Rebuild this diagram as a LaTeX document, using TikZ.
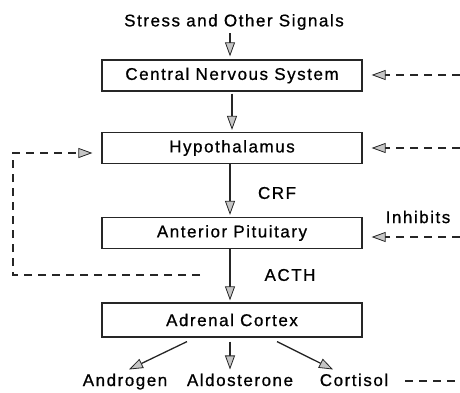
\documentclass[tikz,border=0pt]{standalone}
\usepackage{fontspec}
\setmainfont{Liberation Sans}[LetterSpace=9, FakeBold=0.8]
\usetikzlibrary{arrows.meta,calc}

\tikzset{
  organ/.style={draw=black!85, line width=1.2pt, minimum width=260pt,
    minimum height=31pt, inner sep=0pt},
  lbl/.style={inner sep=0pt},
  tip/.style={-{Triangle[length=14pt,width=10pt,fill=gray!45,line width=0.8pt]}},
  flow/.style={tip, draw=black!85, line width=1.3pt},
  fback/.style={tip, draw=black!85, line width=1.3pt, dash pattern=on 8pt off 6pt},
  plainfb/.style={draw=black!85, line width=1.3pt, dash pattern=on 8pt off 6pt}
}

\begin{document}
\begin{tikzpicture}[x=1pt, y=-1pt, font=\fontsize{17}{20}\selectfont]
  \useasboundingbox (0,0) rectangle (460,393);

  % signal source and the chain of organs
  \node[lbl] (stress) at (234,22) {Stress and Other Signals};
  \node[organ] (cns)   at (232,75.5) {Central Nervous System};
  \node[organ] (hypo)  at (232,148)  {Hypothalamus};
  \node[organ] (pit)   at (232,233)  {Anterior Pituitary};
  \node[organ, minimum height=34pt] (adr) at (232,320) {Adrenal Cortex};

  % hormone labels on the chain
  \node[lbl] (crf)  at (277,193) {CRF};
  \node[lbl] (acth) at (290,275) {ACTH};
  \node[lbl] (inh)  at (418,217) {Inhibits};

  % adrenal products
  \node[lbl, anchor=base] (andro) at (125,386) {Androgen};
  \node[lbl, anchor=base] (aldo)  at (240,386) {Aldosterone};
  \node[lbl, anchor=base] (cort)  at (354,386) {Cortisol};

  % main cascade
  \draw[flow] ($(stress.south)+(-4,3)$) -- ($(cns.north)+(-2,-3)$);
  \draw[flow] ($(cns.south)+(0,2)$) -- ($(hypo.north)+(0,-2)$);
  \draw[flow] ($(hypo.south)+(-2,0)$) -- ($(pit.north)+(-2,-2)$);
  \draw[flow] ($(pit.south)+(-2,0)$) -- ($(adr.north)+(-2,-2)$);

  % outputs of the adrenal cortex
  \draw[flow] ($(adr.south)+(-45,4)$) -- ($(andro.north)+(4,-4)$);
  \draw[flow] ($(adr.south)+(-2,4)$) -- ($(aldo.north)+(-10,-4)$);
  \draw[flow] ($(adr.south)+(45,4)$) -- ($(cort.north)+(-21,-4)$);

  % negative feedback from the right
  \coordinate (r1) at (460,75);
  \coordinate (r2) at (460,148);
  \coordinate (r3) at (460,237);
  \coordinate (r4) at (460,381);
  \coordinate (r4s) at (405,381);
  \draw[fback] (r1) -- ([xshift=9pt]cns.east |- r1);
  \draw[fback] (r2) -- ([xshift=9pt]hypo.east |- r2);
  \draw[fback] (r3) -- ([xshift=9pt]pit.east |- r3);
  \draw[plainfb] (r4s) -- (r4);

  % pituitary feedback loop on the left
  \coordinate (l0) at (200,275);
  \coordinate (l1) at (13,275);
  \coordinate (l2) at (13,153);
  \draw[fback] (l0) -- (l1) -- (l2) -- ([xshift=-9pt]hypo.west |- l2);
\end{tikzpicture}
\end{document}
